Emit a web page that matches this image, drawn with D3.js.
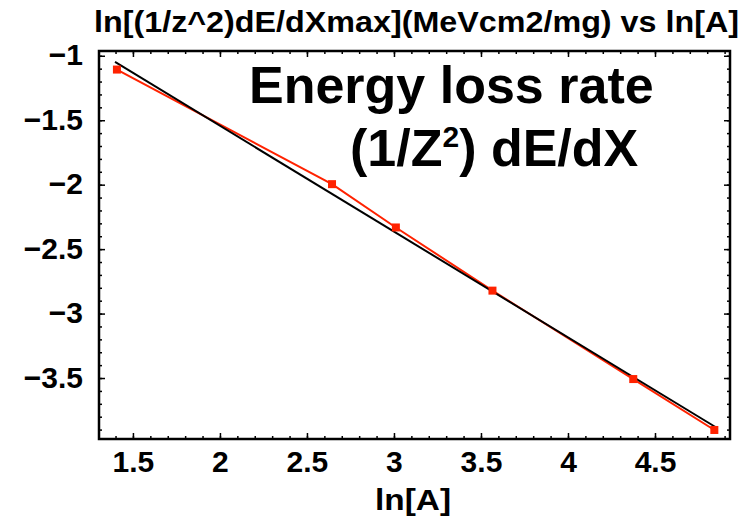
<!DOCTYPE html>
<html>
<head>
<meta charset="utf-8">
<script src="https://cdn.jsdelivr.net/npm/d3@7/dist/d3.min.js"></script>
<style>
  body { margin: 0; background: #fff; }
  svg { display: block; }
  .tick text { font-family: "Liberation Sans", Arial, sans-serif; font-weight: bold; font-size: 30px; fill: #000; }
  .tick line { stroke: #000; stroke-width: 1.5; }
  .lbl { font-family: "Liberation Sans", Arial, sans-serif; font-weight: bold; fill: #000; }
</style>
</head>
<body>
<div id="chart"></div>
<script>
// ln[A] of each measured ion and ln of (1/z^2) dE/dX max
const lnA = [1.408, 2.644, 3.011, 3.566, 4.375, 4.841];
const lnDedx = [-1.107, -1.996, -2.332, -2.822, -3.508, -3.903];

// straight-line fit at its two ends
const fitX = [1.397, 4.845];
const fitY = [-1.048, -3.878];

const xTickLabels = [1.5, 2, 2.5, 3, 3.5, 4, 4.5];
const yTickLabels = [-1, -1.5, -2, -2.5, -3, -3.5];

const titleText = "ln[(1/z^2)dE/dXmax](MeVcm2/mg) vs ln[A]";
const xLabelText = "ln[A]";

let margin = { top: 51, left: 99, right: 23, bottom: 80 },
  totalW = 753, totalH = 519,
  width = totalW - margin.left - margin.right,
  height = totalH - margin.top - margin.bottom;

let svg = d3.select("#chart")
  .append("svg")
    .attr("width", totalW)
    .attr("height", totalH);

let g = svg.append("g")
    .attr("transform", "translate(" + margin.left + "," + margin.top + ")");

// Define scales
const xScale = d3.scaleLinear().domain([1.305, 4.931]).range([0, width]);
const yScale = d3.scaleLinear().domain([-3.973, -0.963]).range([height, 0]);

const fmt = d3.format("~g");
const xMinor = d3.range(14, 50).map(d => d / 10);
const yMinor = d3.range(-39, -9).map(d => d / 10);

// minor ticks, pointing inward on every side
g.append("g").attr("transform", "translate(0," + height + ")")
  .call(d3.axisBottom(xScale).tickValues(xMinor).tickSize(-3).tickFormat(""));
g.append("g")
  .call(d3.axisTop(xScale).tickValues(xMinor).tickSize(-3).tickFormat(""));
g.append("g")
  .call(d3.axisLeft(yScale).tickValues(yMinor).tickSize(-3).tickFormat(""));
g.append("g").attr("transform", "translate(" + width + ",0)")
  .call(d3.axisRight(yScale).tickValues(yMinor).tickSize(-3).tickFormat(""));

// major ticks with labels
let xAxis = g.append("g").attr("transform", "translate(0," + height + ")")
  .call(d3.axisBottom(xScale).tickValues(xTickLabels).tickSize(-6).tickPadding(18).tickFormat(fmt));
xAxis.selectAll("text").attr("dy", "0.71em").attr("y", 12);

g.append("g")
  .call(d3.axisTop(xScale).tickValues(xTickLabels).tickSize(-6).tickFormat(""));

let yAxis = g.append("g")
  .call(d3.axisLeft(yScale).tickValues(yTickLabels).tickSize(-6).tickPadding(16).tickFormat(fmt));
yAxis.selectAll("text").attr("dy", "0.3em");

g.append("g").attr("transform", "translate(" + width + ",0)")
  .call(d3.axisRight(yScale).tickValues(yTickLabels).tickSize(-6).tickFormat(""));

g.selectAll(".domain").remove();

// frame
g.append("rect")
  .attr("width", width)
  .attr("height", height)
  .attr("fill", "none")
  .attr("stroke", "#000")
  .attr("stroke-width", 2.5);

const pts = lnA.map((a, i) => [a, lnDedx[i]]);
const fit = fitX.map((a, i) => [a, fitY[i]]);

const line = d3.line()
  .x(d => xScale(d[0]))
  .y(d => yScale(d[1]));

g.append("path")
  .datum(pts)
  .attr("d", line)
  .attr("fill", "none")
  .attr("stroke", "#ff2200")
  .attr("stroke-width", 2);

g.append("path")
  .datum(fit)
  .attr("d", line)
  .attr("fill", "none")
  .attr("stroke", "#000")
  .attr("stroke-width", 2);

g.selectAll(".pt")
  .data(pts)
  .enter()
  .append("rect")
  .attr("class", "pt")
  .attr("x", d => xScale(d[0]) - 4)
  .attr("y", d => yScale(d[1]) - 4)
  .attr("width", 8)
  .attr("height", 8)
  .attr("fill", "#ff2200");

// title and axis label
svg.append("text")
  .attr("class", "lbl")
  .attr("x", 94)
  .attr("y", 32)
  .attr("font-size", 30)
  .attr("textLength", 645)
  .attr("lengthAdjust", "spacingAndGlyphs")
  .text(titleText);

svg.append("text")
  .attr("class", "lbl")
  .attr("x", 375)
  .attr("y", 510)
  .attr("font-size", 30)
  .attr("textLength", 76)
  .attr("lengthAdjust", "spacingAndGlyphs")
  .text(xLabelText);

// annotation
svg.append("text")
  .attr("class", "lbl")
  .attr("x", 249)
  .attr("y", 103)
  .attr("font-size", 52)
  .text("Energy loss rate");

let note = svg.append("text")
  .attr("class", "lbl")
  .attr("x", 350)
  .attr("y", 166)
  .attr("font-size", 52);
note.append("tspan").text("(1/Z");
note.append("tspan").attr("font-size", 30).attr("dy", -19).text("2");
note.append("tspan").attr("dy", 19).text(") dE/dX");
</script>
</body>
</html>
